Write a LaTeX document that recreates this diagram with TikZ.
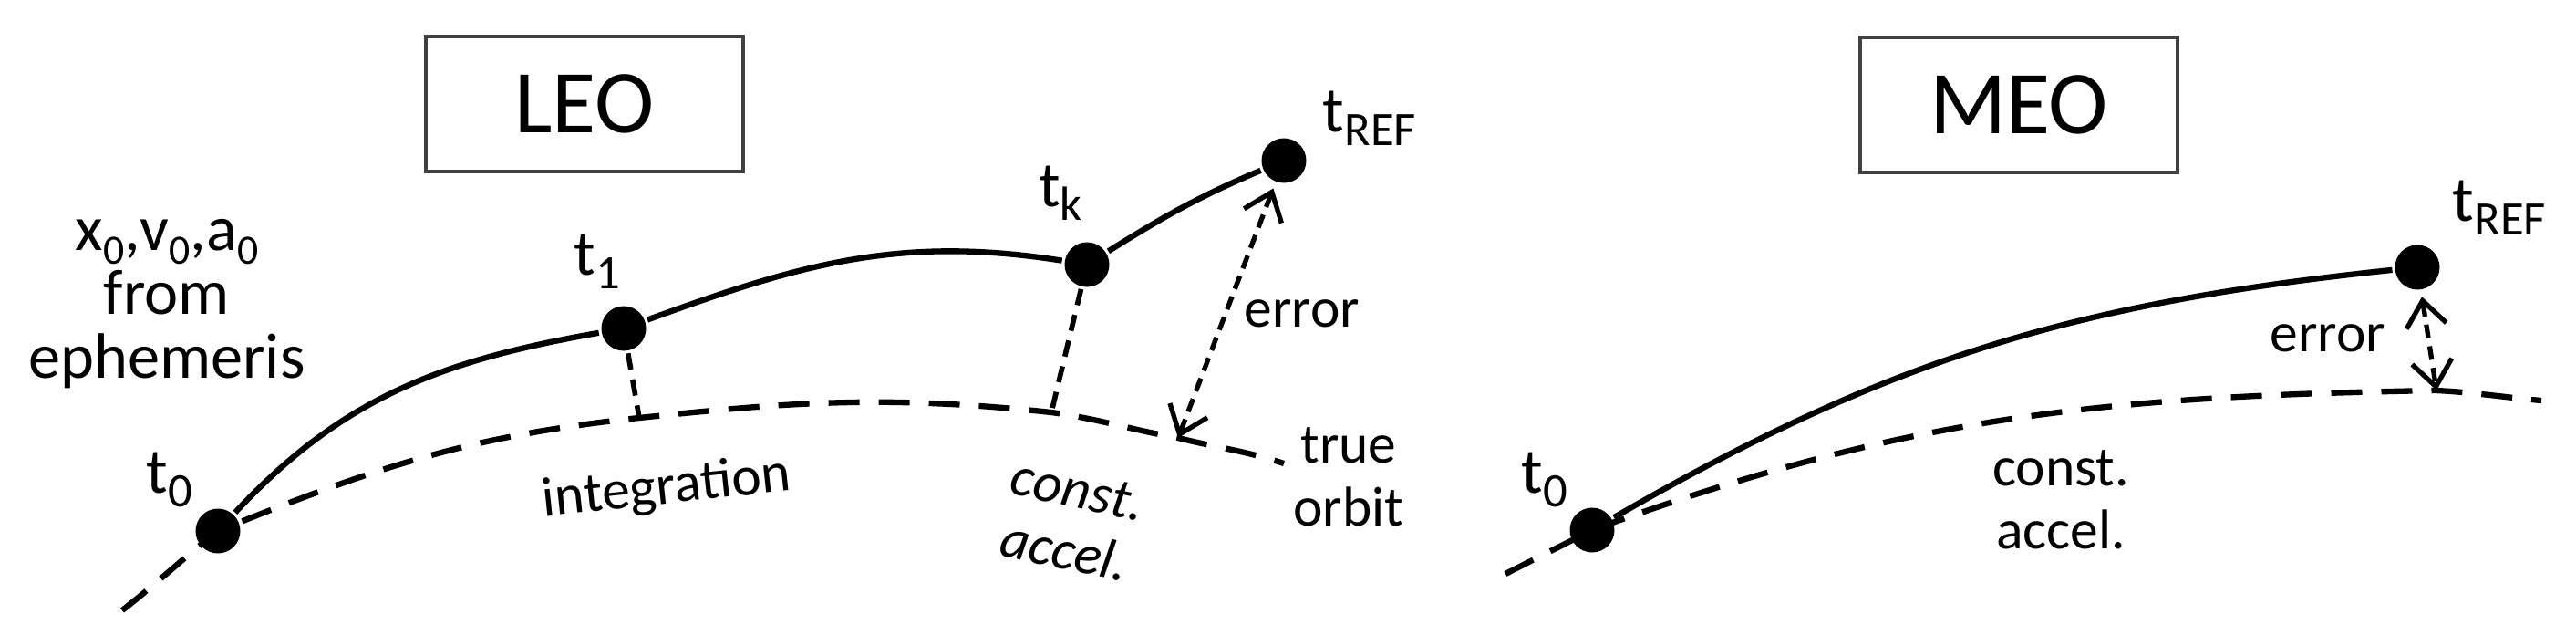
\documentclass[tikz,border=0pt]{standalone}
\usepackage{fontspec}
\setmainfont{Carlito}
\usetikzlibrary{arrows.meta, positioning}

\newcommand{\tlabel}[1]{t\raisebox{-0.15cm}{\fontsize{15}{15}\selectfont #1}}
\newcommand{\xsub}[1]{\raisebox{-0.15cm}[0pt][0pt]{\fontsize{13}{13}\selectfont #1}}

\begin{document}
\begin{tikzpicture}[>={Straight Barb[length=0.28cm, width=0.44cm]}, line width=1.8pt]
        \tikzstyle{marco} = [draw=black!75, line width=1.2pt, rectangle, minimum width=3.48cm, minimum height=1.48cm, font=\fontsize{28}{28}\selectfont]
        \tikzstyle{punto} = [circle, fill, inner sep=0pt, minimum size=0.49cm]
        \tikzstyle{etiq} = [font=\fontsize{20}{20}\selectfont, inner sep=0pt]
        \tikzstyle{nota} = [font=\fontsize{17.5}{19.5}\selectfont, inner sep=0pt, align=center]
        \tikzstyle{orbita} = [dash pattern=on 0.34cm off 0.21cm]
        \tikzstyle{enlace} = [line width=1.6pt, dash pattern=on 0.18cm off 0.11cm]
        \tikzstyle{flechaerror} = [<->, line width=1.5pt, dash pattern=on 0.15cm off 0.09cm]

        \useasboundingbox (0,0) rectangle (28.25,6.95);

        % Caso LEO
        \node[marco] at (6.41,5.81) (leo) {LEO};
        \node[punto] at (2.39,1.13) (lt0) {};
        \node[punto] at (6.84,3.35) (lt1) {};
        \node[punto] at (11.92,4.05) (ltk) {};
        \node[punto] at (14.08,5.19) (ltref) {};

        \node[etiq] at (1.86,1.69) (lt0-lab) {\tlabel{0}};
        \node[etiq] at (6.55,4.08) (lt1-lab) {\tlabel{1}};
        \node[etiq] at (11.63,4.83) (ltk-lab) {\tlabel{k}};
        \node[etiq] at (15.02,5.65) (ltref-lab) {\tlabel{REF}};
        \node[nota, font=\fontsize{20}{20}\selectfont] at (1.83,3.62) (efem) {x\xsub{0},v\xsub{0},a\xsub{0}\\from\\ephemeris};

        \coordinate (lo-ini) at (1.34,0.26);
        \coordinate (lo-f1) at (7.01,2.37); % pie de t1
        \coordinate (lo-fk) at (11.53,2.43); % pie de tk
        \coordinate (lo-fe) at (12.92,2.15); % pie del error
        \coordinate (lo-fin) at (14.08,1.87);

        \draw (lt0) to[out=47,in=190] (lt1) to[out=20,in=171] (ltk) to[out=32,in=203] (ltref);
        \draw[orbita] (lo-ini) to[out=38,in=218] (lt0.center) to[out=22,in=186] (lo-f1) to[out=6,in=174] (lo-fk) to[out=-8,in=170] (lo-fe) to[out=-14,in=162] (lo-fin);
        \draw[enlace] (lt1) -- (lo-f1);
        \draw[enlace] (ltk) -- (lo-fk);
        \draw[flechaerror, shorten <=0.05cm] (ltref) -- (lo-fe);

        \node[nota, rotate=6] at (7.31,1.59) (integ) {integration};
        \node[nota, rotate=-12, font=\fontsize{17.5}{19.5}\selectfont\itshape] at (11.75,1.24) (lconst) {const.\\accel.};
        \node[nota] at (14.28,3.51) (lerr) {error};
        \node[nota] at (14.79,1.72) (lverd) {true\\orbit};

        % Caso MEO
        \node[marco] at (22.14,5.80) (meo) {MEO};
        \node[punto] at (17.46,1.14) (mt0) {};
        \node[punto] at (26.51,4.02) (mtref) {};

        \node[etiq] at (16.94,1.69) (mt0-lab) {\tlabel{0}};
        \node[etiq] at (27.41,4.67) (mtref-lab) {\tlabel{REF}};

        \coordinate (mo-ini) at (16.51,0.66);
        \coordinate (mo-fe) at (26.72,2.67); % pie del error
        \coordinate (mo-fin) at (27.87,2.56);

        \draw (mt0) to[out=30,in=186] (mtref);
        \draw[orbita] (mo-ini) to[out=27,in=207] (mt0.center) to[out=20,in=181] (mo-fe) to[out=-3,in=175] (mo-fin);
        \draw[flechaerror, shorten <=0.05cm] (mtref) -- (mo-fe);

        \node[nota] at (25.53,3.24) (merr) {error};
        \node[nota] at (22.60,1.47) (mconst) {const.\\accel.};

\end{tikzpicture}
\end{document}
